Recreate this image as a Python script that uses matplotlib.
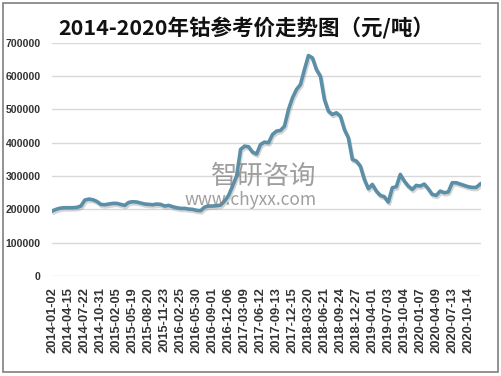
import matplotlib
matplotlib.use("Agg")
import matplotlib.pyplot as plt
import matplotlib.patheffects as pe
from matplotlib.patches import Rectangle
import numpy as np

plt.rcParams['font.family'] = ['Noto Sans CJK SC', 'DejaVu Sans']

title = "2014-2020年钴参考价走势图（元/吨）"

tick_labels = ["2014-01-02", "2014-04-15", "2014-07-22", "2014-10-31", "2015-02-05",
               "2015-05-19", "2015-08-20", "2015-11-23", "2016-02-25", "2016-05-30",
               "2016-09-01", "2016-12-06", "2017-03-09", "2017-06-12", "2017-09-13",
               "2017-12-15", "2018-03-20", "2018-06-21", "2018-09-24", "2018-12-27",
               "2019-04-01", "2019-07-03", "2019-10-04", "2020-01-07", "2020-04-09",
               "2020-07-13", "2020-10-14"]

# cobalt reference price (yuan/ton), sampled four times per labelled interval
price_k = [196, 201, 204, 205, 205, 205, 206, 210, 228, 231,
           229, 224, 215, 214, 216, 218, 218, 215, 212, 221,
           223, 222, 219, 216, 215, 214, 216, 215, 210, 212,
           208, 205, 203, 203, 201, 200, 197, 196, 207, 210,
           210, 211, 213, 225, 242, 270, 300, 380, 390, 388,
           372, 366, 395, 402, 400, 425, 435, 437, 450, 500,
           535, 560, 575, 620, 662, 655, 620, 600, 530, 495,
           485, 490, 480, 440, 415, 350, 345, 330, 290, 262,
           275, 255, 242, 238, 222, 265, 268, 305, 285, 270,
           260, 272, 270, 276, 262, 245, 242, 255, 250, 252,
           280, 280, 276, 272, 268, 266, 266, 276]
price = np.array(price_k) * 1000
samples_per_label = 4

fig = plt.figure(figsize=(5.01, 3.76), dpi=100)
ax = fig.add_axes([0.104, 0.266, 0.856, 0.620])

x = np.arange(len(price)) / samples_per_label
ax.plot(x, price, color="#5B8FA7", lw=2.6, solid_joinstyle='round',
        path_effects=[pe.SimpleLineShadow(offset=(0.8, -1.5), shadow_color='#888888', alpha=0.35),
                      pe.Normal()], zorder=3)

ax.set_ylim(0, 700000)
ax.set_yticks(np.arange(0, 700001, 100000))
ax.set_xlim(-0.05, (len(price) - 1) / samples_per_label + 0.05)
ax.set_xticks(np.arange(len(tick_labels)))
ax.set_xticklabels(tick_labels, rotation=90, fontsize=9.3, fontweight='bold',
                   family=['Liberation Sans'], color='#333333')
for lab in ax.get_yticklabels():
    lab.set_family(['Liberation Sans'])
ax.tick_params(axis='y', labelsize=7.6, length=0, pad=8, labelcolor='#333333')
ax.tick_params(axis='x', length=0, pad=8)
for lab in ax.get_yticklabels():
    lab.set_fontweight('bold')
ax.grid(axis='y', color='#d9d9d9', lw=1)
ax.set_axisbelow(True)
for s in ax.spines.values():
    s.set_visible(False)

fig.text(0.491, 0.925, title, ha='center', va='center', fontsize=15.5,
         fontweight='bold', color='#111111')

# watermark
fig.text(0.527, 0.53, "智研咨询", ha='center', va='center', fontsize=19,
         color='#7f7f7f', alpha=0.75, zorder=5)
fig.text(0.50, 0.468, "www.chyxx.com", ha='center', va='center', fontsize=12.5,
         color='#7f7f7f', alpha=0.75, zorder=5)

fig.patches.append(Rectangle((0.006, 0.011), 0.988, 0.98, transform=fig.transFigure,
                             fill=False, edgecolor='#7f7f7f', lw=1.2))

fig.savefig("out.png", dpi=100)
